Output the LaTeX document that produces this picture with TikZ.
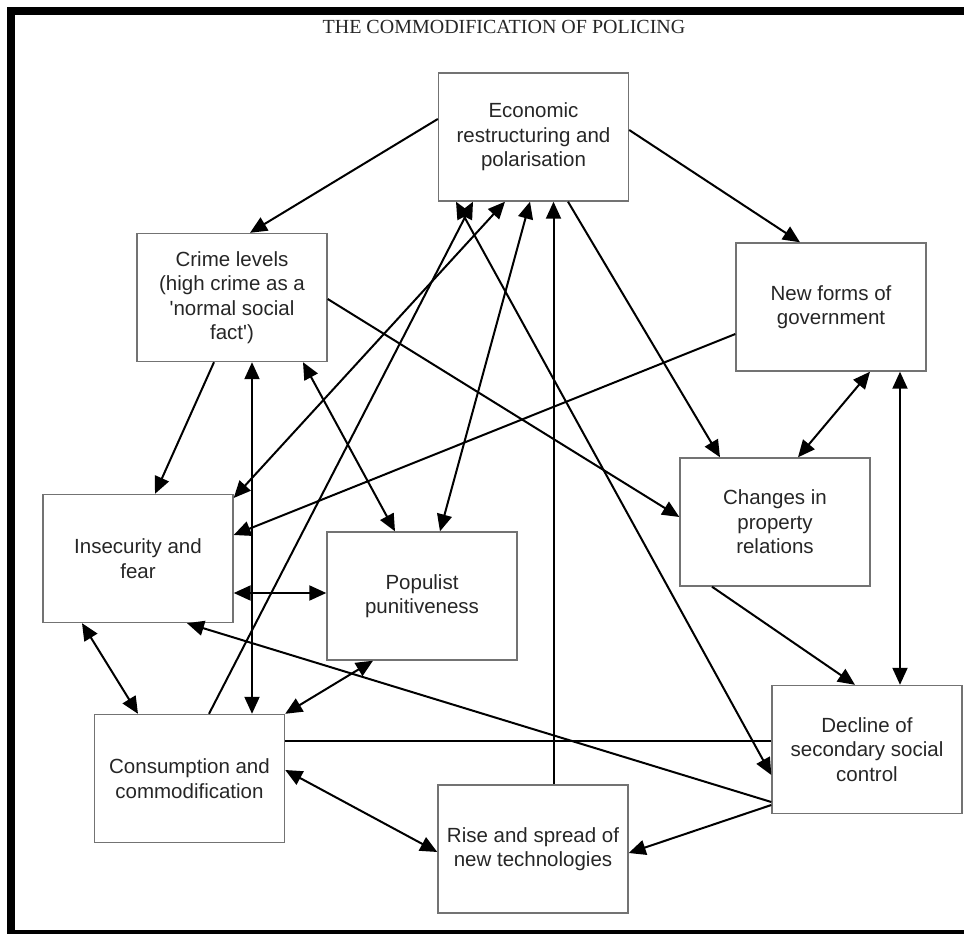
\documentclass[tikz,border=0pt]{standalone}
\usepackage{fontspec}
\setmainfont{Liberation Sans}
\newfontfamily\titlefont{Liberation Serif}
\usetikzlibrary{arrows.meta}

\begin{document}
\begin{tikzpicture}[x=1pt, y=-1pt, line width=2pt, >={Triangle[length=17pt, width=15pt]},
	box node/.style={rectangle, draw=black!55, line width=1.4pt, minimum width=190pt, minimum height=128pt, inner sep=0pt, align=center, text=black!85, font=\fontsize{20.5}{24.5}\selectfont}]
	\useasboundingbox (0,0) rectangle (964,934);
	% frame and heading
	\fill (7,7) rectangle (964,15);
	\fill (7,7) rectangle (15,934);
	\fill (7,930) rectangle (964,934);
	\node[anchor=base, inner sep=0pt, text=black!85, font=\titlefont\fontsize{20}{24}\selectfont] (title) at (504,34) {THE COMMODIFICATION OF POLICING};

	\node[box node] (eco) at (533.5,137) {Economic\\restructuring and\\polarisation};
	\node[box node] (crime) at (232,297.5) {Crime levels\\(high crime as a\\\textquotesingle normal social\\fact\textquotesingle)};
	\node[box node] (gov) at (831,307) {New forms of\\government};
	\node[box node] (prop) at (775,522) {Changes in\\property\\relations};
	\node[box node] (fear) at (138,558.5) {Insecurity and\\fear};
	\node[box node] (pop) at (422,596) {Populist\\punitiveness};
	\node[box node] (cons) at (189.5,778.5) {Consumption and\\commodification};
	\node[box node] (tech) at (533,849) {Rise and spread of\\new technologies};
	\node[box node] (decl) at (867,749.5) {Decline of\\secondary social\\control};

	\path[->]
		([yshift=18pt]eco.west) edge ([xshift=18pt]crime.north)
		([yshift=7pt]eco.east) edge ([xshift=-31pt]gov.north)
		([xshift=34.5pt]eco.south) edge ([xshift=-55pt]prop.north)
		([yshift=-27pt]gov.west) edge ([yshift=23.5pt]fear.east)
		([yshift=-1.5pt]crime.east) edge ([yshift=5pt]prop.west)
		([xshift=-18pt]crime.south) edge ([xshift=17pt]fear.north)
		([xshift=19.5pt]cons.north) edge ([xshift=-60.5pt]eco.south)
		([xshift=20.5pt]tech.north) edge ([xshift=20pt]eco.south)
		([yshift=-52.5pt]decl.west) edge ([xshift=49pt]fear.south)
		([yshift=-55.5pt]decl.west) edge ([yshift=-4pt]tech.east)
		([xshift=-63pt]prop.south) edge ([xshift=-12pt]decl.north)
		([xshift=39pt]gov.south) edge[<->] ([xshift=23pt]prop.north)
		([xshift=69pt]gov.south) edge[<->] ([xshift=33pt]decl.north)
		([xshift=20pt]crime.south) edge[<->] ([xshift=62.5pt]cons.north)
		([xshift=71pt]crime.south) edge[<->] ([xshift=-27pt]pop.north)
		([xshift=18pt]pop.north) edge[<->] ([xshift=-3.5pt]eco.south)
		([yshift=60.5pt]fear.east) edge[<->] ([xshift=-28.5pt]eco.south)
		([yshift=-25.5pt]decl.west) edge[<->] ([xshift=-77.5pt]eco.south)
		([yshift=-34.5pt]fear.east) edge[<->] ([yshift=3pt]pop.west)
		([xshift=-56pt]fear.south) edge[<->] ([xshift=-51.5pt]cons.north)
		([xshift=-49pt]pop.south) edge[<->] (cons.north east)
		([yshift=8.5pt]cons.east) edge[<->] ([yshift=-3pt]tech.west)
		([yshift=37.5pt]cons.east) edge[-] ([yshift=8.5pt]decl.west);
\end{tikzpicture}
\end{document}
